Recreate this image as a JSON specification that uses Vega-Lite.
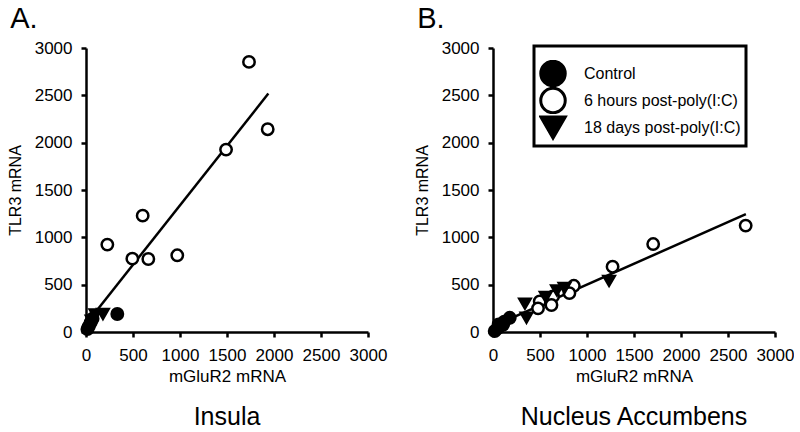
{
  "$schema": "https://vega.github.io/schema/vega-lite/v6.json",
  "background": "white",
  "padding": {"left": 7, "top": 5, "right": 0, "bottom": 0},
  "config": {
    "font": "Liberation Sans",
    "view": {"stroke": null},
    "axis": {"grid": false, "domainColor": "black", "domainWidth": 2.5, "tickColor": "black", "tickWidth": 2.5, "tickSize": 5, "labelColor": "black", "labelFontSize": 17, "titleColor": "black", "titleFontSize": 17, "titleFontWeight": "normal", "labelFlush": false, "labelOverlap": false, "labelPadding": 9, "format": "d"},
    "axisX": {"labelPadding": 10, "titlePadding": 5},
    "axisY": {"titlePadding": 11, "titleFontSize": 16},
    "title": {"color": "black", "fontWeight": "normal"},
    "legend": {"strokeColor": "black", "strokeWidth": 3, "padding": 5, "symbolSize": 600, "symbolStrokeColor": "black", "symbolStrokeWidth": 3, "labelFontSize": 16, "labelColor": "black", "labelOffset": 17, "rowPadding": 0, "clipHeight": 27, "gridAlign": "none", "fillColor": "white", "titleFontSize": 8, "titlePadding": 1}
  },
  "datasets": {
    "pts": [
      {"region": "Insula", "group": "6 hours post-poly(I:C)", "x": 1734, "y": 2853},
      {"region": "Insula", "group": "6 hours post-poly(I:C)", "x": 1933, "y": 2142},
      {"region": "Insula", "group": "6 hours post-poly(I:C)", "x": 1490, "y": 1927},
      {"region": "Insula", "group": "6 hours post-poly(I:C)", "x": 603, "y": 1229},
      {"region": "Insula", "group": "6 hours post-poly(I:C)", "x": 227, "y": 923},
      {"region": "Insula", "group": "6 hours post-poly(I:C)", "x": 493, "y": 775},
      {"region": "Insula", "group": "6 hours post-poly(I:C)", "x": 663, "y": 771},
      {"region": "Insula", "group": "6 hours post-poly(I:C)", "x": 971, "y": 810},
      {"region": "Insula", "group": "Control", "x": 333, "y": 190},
      {"region": "Insula", "group": "Control", "x": 15, "y": 30},
      {"region": "Insula", "group": "Control", "x": 30, "y": 60},
      {"region": "Insula", "group": "Control", "x": 50, "y": 100},
      {"region": "Insula", "group": "Control", "x": 70, "y": 140},
      {"region": "Insula", "group": "18 days post-poly(I:C)", "x": 60, "y": 120},
      {"region": "Insula", "group": "18 days post-poly(I:C)", "x": 100, "y": 185},
      {"region": "Insula", "group": "18 days post-poly(I:C)", "x": 180, "y": 190},
      {"region": "Nucleus Accumbens", "group": "6 hours post-poly(I:C)", "x": 2688, "y": 1124},
      {"region": "Nucleus Accumbens", "group": "6 hours post-poly(I:C)", "x": 1704, "y": 929},
      {"region": "Nucleus Accumbens", "group": "6 hours post-poly(I:C)", "x": 1272, "y": 690},
      {"region": "Nucleus Accumbens", "group": "6 hours post-poly(I:C)", "x": 860, "y": 488},
      {"region": "Nucleus Accumbens", "group": "6 hours post-poly(I:C)", "x": 813, "y": 411},
      {"region": "Nucleus Accumbens", "group": "6 hours post-poly(I:C)", "x": 639, "y": 376},
      {"region": "Nucleus Accumbens", "group": "6 hours post-poly(I:C)", "x": 622, "y": 285},
      {"region": "Nucleus Accumbens", "group": "6 hours post-poly(I:C)", "x": 497, "y": 323},
      {"region": "Nucleus Accumbens", "group": "6 hours post-poly(I:C)", "x": 479, "y": 250},
      {"region": "Nucleus Accumbens", "group": "Control", "x": 18, "y": 10},
      {"region": "Nucleus Accumbens", "group": "Control", "x": 53, "y": 41},
      {"region": "Nucleus Accumbens", "group": "Control", "x": 60, "y": 80},
      {"region": "Nucleus Accumbens", "group": "Control", "x": 106, "y": 77},
      {"region": "Nucleus Accumbens", "group": "Control", "x": 120, "y": 110},
      {"region": "Nucleus Accumbens", "group": "Control", "x": 178, "y": 150},
      {"region": "Nucleus Accumbens", "group": "18 days post-poly(I:C)", "x": 340, "y": 300},
      {"region": "Nucleus Accumbens", "group": "18 days post-poly(I:C)", "x": 356, "y": 150},
      {"region": "Nucleus Accumbens", "group": "18 days post-poly(I:C)", "x": 560, "y": 370},
      {"region": "Nucleus Accumbens", "group": "18 days post-poly(I:C)", "x": 680, "y": 440},
      {"region": "Nucleus Accumbens", "group": "18 days post-poly(I:C)", "x": 760, "y": 465},
      {"region": "Nucleus Accumbens", "group": "18 days post-poly(I:C)", "x": 1235, "y": 540}
    ],
    "lines": [
      {"region": "Insula", "x": 20, "y": 108},
      {"region": "Insula", "x": 1940, "y": 2519},
      {"region": "Nucleus Accumbens", "x": 10, "y": 65},
      {"region": "Nucleus Accumbens", "x": 2690, "y": 1245}
    ]
  },
  "spacing": 27,
  "resolve": {"scale": {"shape": "independent", "fill": "independent", "stroke": "independent"}, "legend": {"shape": "independent", "fill": "independent", "stroke": "independent"}},
  "hconcat": [
    {
      "title": {"text": "A.", "anchor": "start", "fontSize": 29, "offset": 5, "dx": 3},
      "vconcat": [
        {
          "title": {"text": "Insula", "orient": "bottom", "fontSize": 25, "anchor": "middle", "frame": "group", "offset": 21},
          "width": 282,
          "height": 284,
          "layer": [
            {
              "data": {"name": "lines"},
              "transform": [{"filter": "datum.region === 'Insula'"}],
              "mark": {"type": "line", "color": "black", "strokeWidth": 2.5},
              "encoding": {
                "x": {"field": "x", "type": "quantitative", "scale": {"domain": [0, 3000], "nice": false}, "axis": {"title": "mGluR2 mRNA", "values": [0, 500, 1000, 1500, 2000, 2500, 3000]}},
                "y": {"field": "y", "type": "quantitative", "scale": {"domain": [0, 3000], "nice": false}, "axis": {"title": "TLR3 mRNA", "values": [0, 500, 1000, 1500, 2000, 2500, 3000]}}
              }
            },
            {
              "data": {"name": "pts"},
              "transform": [{"filter": "datum.region === 'Insula'"}],
              "mark": {"type": "point", "filled": true, "size": 130, "strokeWidth": 2.5, "opacity": 1, "clip": false},
              "encoding": {
                "x": {"field": "x", "type": "quantitative"},
                "y": {"field": "y", "type": "quantitative"},
                "shape": {"field": "group", "type": "nominal", "scale": {"domain": ["Control", "6 hours post-poly(I:C)", "18 days post-poly(I:C)"], "range": ["circle", "circle", "triangle-down"]}, "legend": null},
                "fill": {"field": "group", "type": "nominal", "scale": {"domain": ["Control", "6 hours post-poly(I:C)", "18 days post-poly(I:C)"], "range": ["black", "white", "black"]}, "legend": null},
                "stroke": {"field": "group", "type": "nominal", "scale": {"domain": ["Control", "6 hours post-poly(I:C)", "18 days post-poly(I:C)"], "range": ["black", "black", "black"]}, "legend": null}
              }
            }
          ]
        }
      ]
    },
    {
      "title": {"text": "B.", "anchor": "start", "fontSize": 29, "offset": 5, "dx": 3},
      "vconcat": [
        {
          "title": {"text": "Nucleus Accumbens", "orient": "bottom", "fontSize": 25, "anchor": "middle", "frame": "group", "offset": 21},
          "width": 282,
          "height": 284,
          "layer": [
            {
              "data": {"name": "lines"},
              "transform": [{"filter": "datum.region === 'Nucleus Accumbens'"}],
              "mark": {"type": "line", "color": "black", "strokeWidth": 2.5},
              "encoding": {
                "x": {"field": "x", "type": "quantitative", "scale": {"domain": [0, 3000], "nice": false}, "axis": {"title": "mGluR2 mRNA", "values": [0, 500, 1000, 1500, 2000, 2500, 3000]}},
                "y": {"field": "y", "type": "quantitative", "scale": {"domain": [0, 3000], "nice": false}, "axis": {"title": "TLR3 mRNA", "values": [0, 500, 1000, 1500, 2000, 2500, 3000]}}
              }
            },
            {
              "data": {"name": "pts"},
              "transform": [{"filter": "datum.region === 'Nucleus Accumbens'"}],
              "mark": {"type": "point", "filled": true, "size": 130, "strokeWidth": 2.5, "opacity": 1, "clip": false},
              "encoding": {
                "x": {"field": "x", "type": "quantitative"},
                "y": {"field": "y", "type": "quantitative"},
                "shape": {"field": "group", "type": "nominal", "scale": {"domain": ["Control", "6 hours post-poly(I:C)", "18 days post-poly(I:C)"], "range": ["circle", "circle", "triangle-down"]}, "legend": {"title": " ", "orient": "none", "legendX": 41, "legendY": -2}},
                "fill": {"field": "group", "type": "nominal", "scale": {"domain": ["Control", "6 hours post-poly(I:C)", "18 days post-poly(I:C)"], "range": ["black", "white", "black"]}, "legend": {"title": " ", "orient": "none", "legendX": 41, "legendY": -2}},
                "stroke": {"field": "group", "type": "nominal", "scale": {"domain": ["Control", "6 hours post-poly(I:C)", "18 days post-poly(I:C)"], "range": ["black", "black", "black"]}, "legend": {"title": " ", "orient": "none", "legendX": 41, "legendY": -2}}
              }
            }
          ]
        }
      ]
    }
  ]
}
